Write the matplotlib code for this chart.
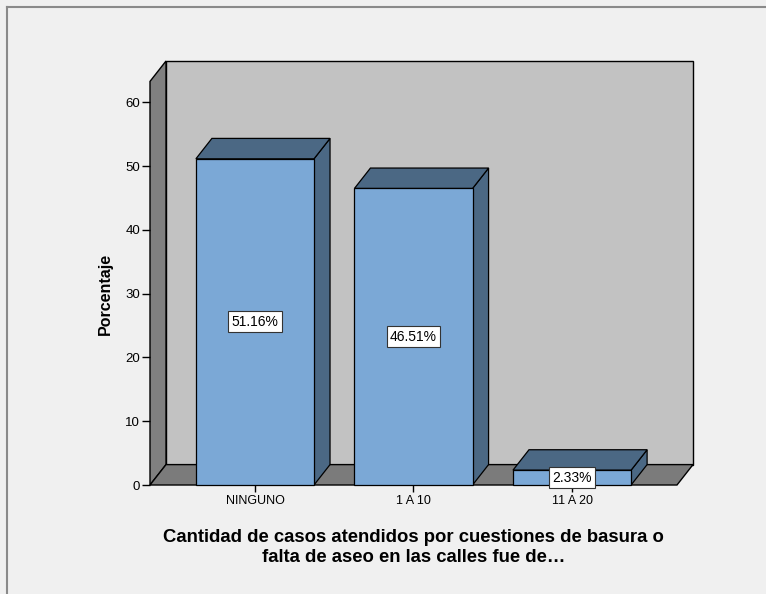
import matplotlib.pyplot as plt
from matplotlib.patches import Polygon
from matplotlib.lines import Line2D

plt.rcParams['font.family'] = ['Liberation Sans', 'DejaVu Sans']

categories = ['NINGUNO', '1 A 10', '11 A 20']
percent = [51.16, 46.51, 2.33]
yticks = [0, 10, 20, 30, 40, 50, 60]

fig = plt.figure(figsize=(7.66, 5.94), dpi=100, facecolor='#f0f0f0')
ax = fig.add_axes([150 / 766, 1 - 485 / 594, 543 / 766, 424 / 594])

# 3d look: depth offset in data units
x0, x1 = -0.662, 2.662
ytop = 63.3
dx, dy = 0.101, 3.2
w = 0.745

# walls
ax.add_patch(Polygon([(x0 + dx, dy), (x1 + dx, dy), (x1 + dx, ytop + dy), (x0 + dx, ytop + dy)],
                     closed=True, fc='#c2c2c2', ec='black', lw=1.0, clip_on=False))
ax.add_patch(Polygon([(x0, 0), (x0 + dx, dy), (x0 + dx, ytop + dy), (x0, ytop)],
                     closed=True, fc='#808080', ec='black', lw=1.0, clip_on=False))
ax.add_patch(Polygon([(x0, 0), (x1, 0), (x1 + dx, dy), (x0 + dx, dy)],
                     closed=True, fc='#7b7b7b', ec='black', lw=1.0, clip_on=False))

front = '#7ba8d6'
dark = '#4b6884'
for i, v in enumerate(percent):
    l, r = i - w / 2, i + w / 2
    ax.add_patch(Polygon([(r, 0), (r + dx, dy), (r + dx, v + dy), (r, v)],
                         closed=True, fc=dark, ec='black', lw=0.9, clip_on=False))
    ax.add_patch(Polygon([(l, v), (r, v), (r + dx, v + dy), (l + dx, v + dy)],
                         closed=True, fc=dark, ec='black', lw=0.9, clip_on=False))
    ax.add_patch(Polygon([(l, 0), (r, 0), (r, v), (l, v)],
                         closed=True, fc=front, ec='black', lw=0.9, clip_on=False))
    ax.text(i, v / 2, f'{v:.2f}%', ha='center', va='center', fontsize=10,
            bbox=dict(boxstyle='square,pad=0.25', fc='white', ec='#333333', lw=0.8))

ax.set_xlim(x0, x1 + dx)
ax.set_ylim(0, ytop + dy)
ax.set_xticks(range(len(categories)))
ax.set_xticklabels(categories, fontsize=9)
ax.set_yticks(yticks)
ax.tick_params(axis='y', direction='out', length=6, width=1, labelsize=9.5, pad=1)
ax.tick_params(axis='x', direction='out', length=5, width=1, pad=2)
for s in ax.spines.values():
    s.set_visible(False)
ax.patch.set_visible(False)

ax.set_ylabel('Porcentaje', fontsize=11.5, fontweight='bold')
ax.yaxis.set_label_coords(-0.069, 0.45)
ax.set_xlabel('Cantidad de casos atendidos por cuestiones de basura o\nfalta de aseo en las calles fue de\u2026',
              fontsize=13.3, fontweight='bold', linespacing=1.25)
ax.xaxis.set_label_coords(0.486, -0.103)

# outer frame (top and left edges visible)
fig.add_artist(Line2D([7 / 766, 7 / 766], [0, 1 - 7 / 594], color='#8a8a8a', lw=1.5))
fig.add_artist(Line2D([7 / 766, 1], [1 - 7 / 594, 1 - 7 / 594], color='#8a8a8a', lw=1.5))

fig.savefig('out.png', dpi=100, facecolor=fig.get_facecolor())
